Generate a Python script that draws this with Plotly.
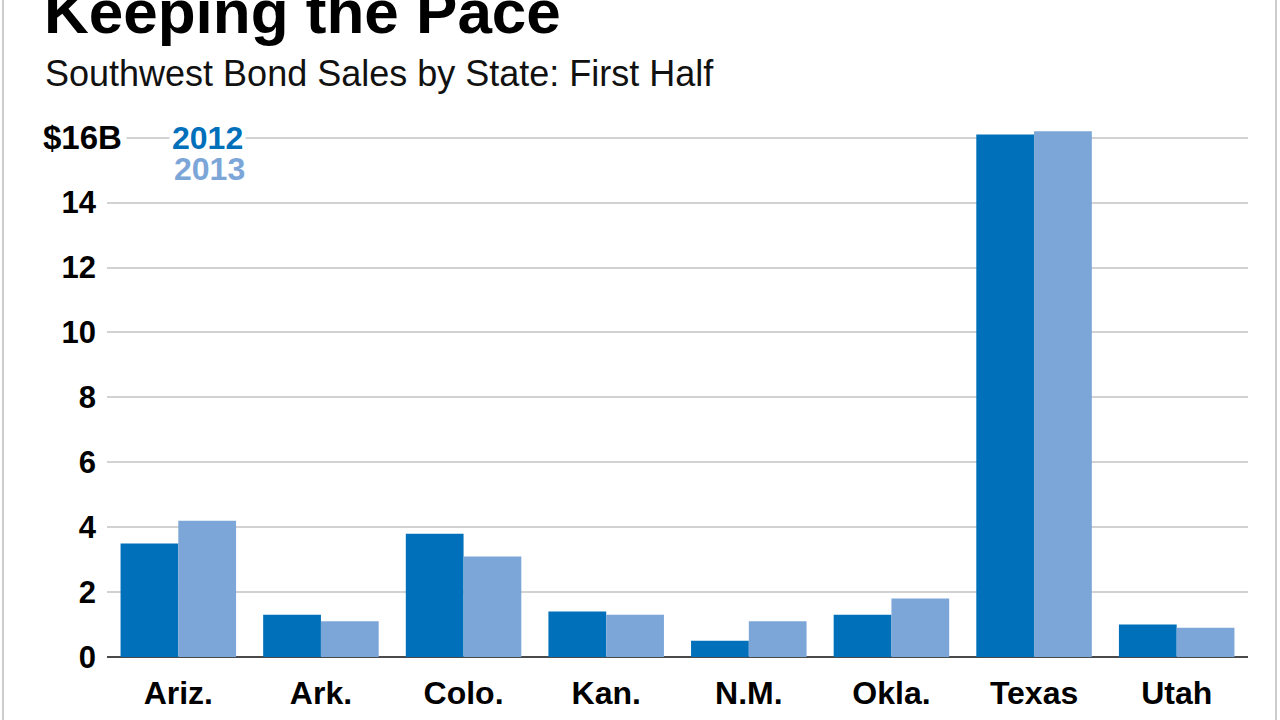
import plotly.graph_objects as go

states = ["Ariz.", "Ark.", "Colo.", "Kan.", "N.M.", "Okla.", "Texas", "Utah"]
sales_2012 = [3.5, 1.3, 3.8, 1.4, 0.5, 1.3, 16.1, 1.0]
sales_2013 = [4.2, 1.1, 3.1, 1.3, 1.1, 1.8, 16.2, 0.9]
y_tickvals = [0, 2, 4, 6, 8, 10, 12, 14, 16]
y_ticktext = ["0", "2", "4", "6", "8", "10", "12", "14", ""]
Y_MAX = 16.3

C2012 = "#0070ba"
C2013 = "#7ca6d8"
FONT = "Liberation Sans"

W, H = 1280, 720
ZERO_PX, SIXTEEN_PX = 657, 138
UNIT = (ZERO_PX - SIXTEEN_PX) / 16.0
ML, MR, MB = 107, 32, H - ZERO_PX
MT = round(ZERO_PX - Y_MAX * UNIT)
PW = W - ML - MR
PH = H - MT - MB


def px_x(px):
    return (px - ML) / PW


def px_y(py):
    return (H - MB - py) / PH


def px_data(py):
    return (ZERO_PX - py) / UNIT


fig = go.Figure()
fig.add_trace(go.Bar(x=states, y=sales_2012, name="2012", marker=dict(color=C2012, line=dict(width=0))))
fig.add_trace(go.Bar(x=states, y=sales_2013, name="2013", marker=dict(color=C2013, line=dict(width=0))))

fig.update_layout(
    width=W, height=H,
    margin=dict(l=ML, r=MR, t=MT, b=MB, autoexpand=False),
    paper_bgcolor="white", plot_bgcolor="white",
    barmode="group", bargap=0.19, bargroupgap=0,
    showlegend=False,
    font=dict(family=FONT, color="black"),
    xaxis=dict(
        showgrid=False, showline=False, zeroline=False, automargin=False,
        tickfont=dict(family=FONT, size=32, weight="bold", color="black"),
        ticklabelstandoff=14,
    ),
    yaxis=dict(
        range=[0, Y_MAX], tickvals=y_tickvals, ticktext=y_ticktext, automargin=False,
        showgrid=True, gridcolor="#d2d2d2", gridwidth=1.5,
        zeroline=True, zerolinecolor="#4a4a4a", zerolinewidth=2,
        showline=False,
        tickfont=dict(family=FONT, size=31, weight="bold", color="black"),
        ticklabelstandoff=10,
    ),
    shapes=[
        dict(type="line", xref="paper", yref="paper", x0=px_x(3), x1=px_x(3), y0=-0.3, y1=1.5,
             line=dict(color="#cccccc", width=2)),
        dict(type="line", xref="paper", yref="paper", x0=px_x(1276), x1=px_x(1276), y0=-0.3, y1=1.5,
             line=dict(color="#cccccc", width=2)),
    ],
    annotations=[
        dict(text="Keeping the Pace", xref="paper", yref="paper", x=px_x(43), y=px_y(12),
             xanchor="left", yanchor="middle", showarrow=False, borderpad=0,
             font=dict(family=FONT, size=62, weight="bold", color="black")),
        dict(text="Southwest Bond Sales by State: First Half", xref="paper", yref="paper",
             x=px_x(44), y=px_y(74), xanchor="left", yanchor="middle", showarrow=False, borderpad=0,
             font=dict(family=FONT, size=36, color="#111111")),
        dict(text="$16B", xref="paper", yref="y", x=px_x(127), y=16, xanchor="right", yanchor="middle",
             showarrow=False, bgcolor="white", borderpad=4,
             font=dict(family=FONT, size=33, weight="bold", color="black")),
        dict(text="2012", xref="paper", yref="y", x=px_x(207), y=16, xanchor="center", yanchor="middle",
             showarrow=False, bgcolor="white", borderpad=2,
             font=dict(family=FONT, size=32, weight="bold", color=C2012)),
        dict(text="2013", xref="paper", yref="y", x=px_x(209), y=px_data(169), xanchor="center",
             yanchor="middle", showarrow=False, borderpad=0,
             font=dict(family=FONT, size=32, weight="bold", color=C2013)),
    ],
)

fig.write_html("out.html", config={"displayModeBar": False},
               post_script="document.body.style.margin='0px';")
